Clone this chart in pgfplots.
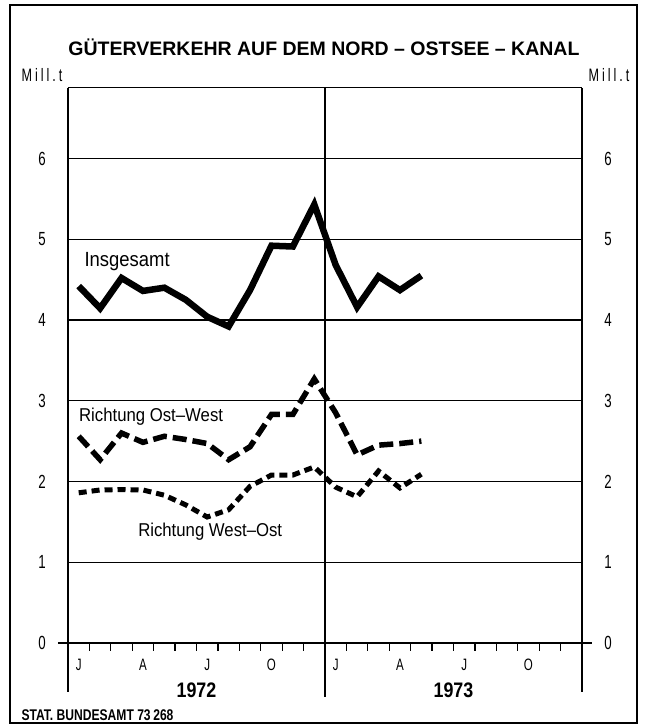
\documentclass[border=0pt]{standalone}
\usepackage{fontspec}
\setmainfont{Liberation Sans}
\newfontfamily\cond{Liberation Sans}[FakeStretch=0.85]
\newfontfamily\condl{Liberation Sans}[FakeStretch=0.9]
\newfontfamily\condn{Liberation Sans}[FakeStretch=0.78]
\newfontfamily\condt{Liberation Sans}[FakeStretch=0.7]
\usepackage{pgfplots}
\pgfplotsset{compat=1.18}
\begin{document}
\begin{tikzpicture}[x=1pt,y=1pt]
\useasboundingbox (0,0) rectangle (647,724);
\draw[line width=2pt] (10,1) rectangle (637,719);
\node[font=\bfseries\fontsize{19.5}{20}\selectfont] at (324,677) {GÜTERVERKEHR AUF DEM NORD – OSTSEE – KANAL};
\node[font=\condt\fontsize{18}{18}\selectfont] at (42,649) {M\,i\,l\,l\,.\,t};
\node[font=\condt\fontsize{18}{18}\selectfont] at (609,649) {M\,i\,l\,l\,.\,t};
\node[font=\condn\bfseries\fontsize{15.5}{15.5}\selectfont, anchor=west] at (18,9) {STAT. BUNDESAMT 73\,268};
\begin{axis}[at={(68pt,81pt)}, anchor=south west, scale only axis,
  width=514pt, height=555pt, xmin=0, xmax=24, ymin=0, ymax=6.873,
  axis lines=none, clip=false, ticks=none]
\pgfplotsinvokeforeach{1,...,6}{\draw[line width=1.4pt] (axis cs:0,#1) -- (axis cs:24,#1);}
\pgfplotsinvokeforeach{0,...,24}{\draw[line width=1.3pt] (axis cs:#1,0) -- ([yshift=-8pt]axis cs:#1,0);}
\pgfplotsinvokeforeach{0,...,6}{
  \node[font=\condt\fontsize{19}{19}\selectfont] at ([xshift=-26pt]axis cs:0,#1) {#1};
  \node[font=\condt\fontsize{19}{19}\selectfont] at ([xshift=26pt]axis cs:24,#1) {#1};
}
\draw[line width=1pt] (axis cs:0,6.873) -- (axis cs:24,6.873);
\draw[line width=1.5pt] (axis cs:0,6.873) -- ([yshift=-49pt]axis cs:0,0);
\draw[line width=1.5pt] (axis cs:24,6.873) -- ([yshift=-49pt]axis cs:24,0);
\draw[line width=1.6pt] (axis cs:12,6.873) -- ([yshift=-54pt]axis cs:12,0);
\draw[line width=2.2pt] ([xshift=-10pt]axis cs:0,0) -- ([xshift=10pt]axis cs:24,0);
\pgfplotsinvokeforeach{0.5,12.5}{
  \node[font=\condt\fontsize{16.5}{16.5}\selectfont] at ([yshift=-22pt]axis cs:#1,0) {J};}
\pgfplotsinvokeforeach{3.5,15.5}{
  \node[font=\condt\fontsize{16.5}{16.5}\selectfont] at ([yshift=-22pt]axis cs:#1,0) {A};}
\pgfplotsinvokeforeach{6.5,18.5}{
  \node[font=\condt\fontsize{16.5}{16.5}\selectfont] at ([yshift=-22pt]axis cs:#1,0) {J};}
\pgfplotsinvokeforeach{9.5,21.5}{
  \node[font=\condt\fontsize{16.5}{16.5}\selectfont] at ([yshift=-22pt]axis cs:#1,0) {O};}
\node[font=\cond\bfseries\fontsize{21}{21}\selectfont] at ([yshift=-47pt]axis cs:6,0) {1972};
\node[font=\cond\bfseries\fontsize{21}{21}\selectfont] at ([yshift=-47pt]axis cs:18,0) {1973};
% Insgesamt
\addplot[black, line width=6.5pt, no marks] coordinates {
(0.5,4.42) (1.5,4.145) (2.5,4.52) (3.5,4.36) (4.5,4.40) (5.5,4.25) (6.5,4.04) (7.5,3.92)
(8.5,4.37) (9.5,4.92) (10.5,4.91) (11.5,5.43) (12.5,4.68) (13.5,4.16) (14.5,4.54) (15.5,4.37) (16.5,4.55)};
% Ost-West
\addplot[black, line width=5.5pt, no marks, dash pattern=on 14pt off 6pt] coordinates {
(0.5,2.56) (1.5,2.27) (2.5,2.60) (3.5,2.485) (4.5,2.56) (5.5,2.52) (6.5,2.47) (7.5,2.27)
(8.5,2.43) (9.5,2.83) (10.5,2.83) (11.5,3.27) (12.5,2.85) (13.5,2.33) (14.5,2.45) (15.5,2.47) (16.5,2.50)};
% West-Ost
\addplot[black, line width=5pt, no marks, dash pattern=on 8pt off 5pt] coordinates {
(0.5,1.86) (1.5,1.895) (2.5,1.90) (3.5,1.895) (4.5,1.83) (5.5,1.71) (6.5,1.56) (7.5,1.65)
(8.5,1.94) (9.5,2.08) (10.5,2.08) (11.5,2.18) (12.5,1.93) (13.5,1.81) (14.5,2.13) (15.5,1.92) (16.5,2.09)};
\node[font=\condl\fontsize{20.5}{20.5}\selectfont] at (axis cs:2.76,4.72) {Insgesamt};
\node[font=\condl\fontsize{18.6}{18.6}\selectfont] at (axis cs:3.88,2.80) {Richtung Ost–West};
\node[font=\condl\fontsize{18.6}{18.6}\selectfont] at (axis cs:6.64,1.375) {Richtung West–Ost};
\end{axis}
\end{tikzpicture}
\end{document}
